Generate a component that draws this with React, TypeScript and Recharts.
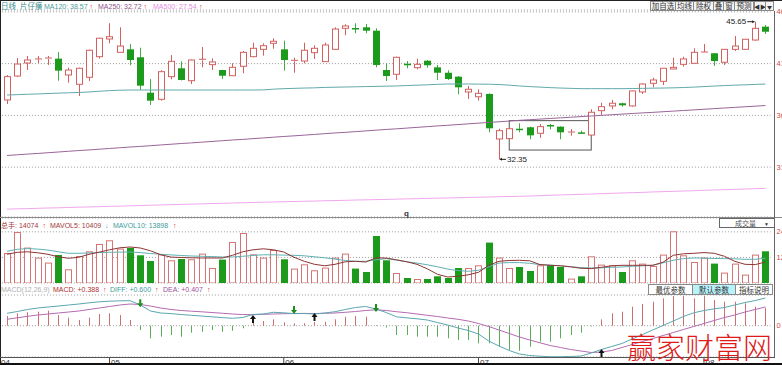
import React from "react";
import {
  ComposedChart,
  Bar,
  Line,
  XAxis,
  YAxis,
  CartesianGrid,
  ReferenceDot,
  ReferenceArea,
} from "recharts";

// daily candles, Apr - Aug
const opens = [38.09, 40.4, 41.66, 41.99, 42.05, 42.08, 40.5, 39.6, 40.28, 42.27, 43.98, 42.69, 42.98, 42.21, 38.79, 38.15, 40.34, 41.15, 39.95, 41.92, 41.5, 40.98, 40.43, 41.34, 42.27, 42.98, 43.56, 42.98, 41.82, 41.85, 42.66, 41.79, 42.98, 45.01, 45.04, 45.11, 44.78, 40.98, 40.57, 41.59, 41.21, 41.88, 41.24, 40.72, 40.34, 38.86, 38.4, 38.67, 34.32, 34.35, 35.31, 35.45, 34.87, 35.67, 35.51, 34.93, 34.96, 34.7, 37.05, 37.51, 37.77, 37.51, 38.86, 39.7, 39.89, 41.08, 41.53, 41.63, 42.66, 42.6, 41.73, 42.98, 42.98, 43.88, 45.17];
const highs = [40.5, 42.14, 42.34, 42.34, 42.34, 42.72, 41.21, 41.21, 42.95, 44.1, 45.5, 45.11, 43.5, 43.14, 40.11, 40.96, 42.43, 41.82, 42.0, 43.21, 42.11, 41.0, 41.63, 42.82, 43.62, 43.56, 44.05, 43.82, 42.17, 43.62, 43.37, 43.62, 45.11, 45.4, 45.5, 45.43, 45.01, 41.63, 42.27, 41.85, 42.08, 41.95, 41.47, 40.96, 40.4, 39.44, 39.12, 38.73, 35.31, 35.41, 35.83, 35.51, 35.77, 35.77, 35.53, 35.28, 35.12, 37.19, 37.82, 38.09, 37.82, 38.99, 39.7, 40.24, 41.18, 42.17, 42.27, 43.08, 43.5, 42.62, 43.0, 44.27, 43.98, 45.65, 45.33];
const lows = [37.7, 40.31, 40.98, 41.66, 41.47, 39.95, 39.76, 38.47, 39.92, 42.08, 43.56, 42.65, 41.44, 39.05, 37.6, 38.02, 40.09, 39.97, 39.63, 41.24, 40.98, 40.11, 40.4, 40.67, 42.21, 42.37, 43.04, 40.92, 40.72, 41.63, 42.05, 41.76, 42.95, 44.34, 44.53, 44.53, 41.24, 39.92, 40.02, 41.15, 41.05, 41.21, 40.02, 40.02, 38.64, 38.18, 38.02, 34.96, 32.35, 34.32, 34.96, 34.29, 34.44, 35.25, 34.29, 34.64, 34.8, 34.68, 36.64, 37.19, 37.44, 37.44, 38.67, 39.31, 39.53, 41.08, 41.3, 41.63, 42.66, 41.37, 41.47, 42.82, 42.92, 43.81, 44.46];
const closes = [40.34, 41.56, 41.95, 42.05, 42.14, 40.92, 40.98, 41.15, 42.89, 44.05, 44.2, 43.3, 41.95, 39.47, 38.02, 40.82, 41.82, 40.02, 41.95, 42.02, 41.76, 40.43, 41.24, 42.69, 43.08, 43.33, 43.76, 41.95, 41.92, 42.89, 43.08, 43.4, 44.94, 45.24, 44.97, 44.78, 41.47, 40.4, 42.21, 41.44, 41.53, 41.44, 40.72, 40.11, 39.31, 39.12, 38.73, 35.35, 35.12, 35.31, 35.19, 34.67, 35.51, 35.6, 34.96, 34.99, 34.83, 36.9, 37.44, 37.77, 37.57, 38.96, 39.63, 40.02, 41.15, 41.24, 42.05, 42.69, 42.72, 41.85, 42.98, 43.3, 43.95, 45.01, 44.68];

const ma120 = [38.57, 38.6, 38.64, 38.67, 38.71, 38.75, 38.78, 38.81, 38.86, 38.93, 38.99, 39.03, 39.05, 39.05, 39.05, 39.05, 39.05, 39.05, 39.05, 39.05, 39.05, 39.05, 39.05, 39.05, 39.05, 39.06, 39.13, 39.18, 39.21, 39.24, 39.26, 39.3, 39.32, 39.34, 39.36, 39.38, 39.4, 39.42, 39.44, 39.48, 39.52, 39.55, 39.6, 39.63, 39.63, 39.63, 39.62, 39.61, 39.58, 39.52, 39.44, 39.38, 39.33, 39.28, 39.24, 39.21, 39.18, 39.18, 39.18, 39.18, 39.18, 39.19, 39.21, 39.23, 39.24, 39.26, 39.29, 39.33, 39.38, 39.43, 39.48, 39.52, 39.55, 39.59, 39.63];
const ma250 = [32.72, 32.79, 32.86, 32.92, 32.99, 33.06, 33.13, 33.2, 33.26, 33.33, 33.4, 33.47, 33.54, 33.6, 33.67, 33.74, 33.81, 33.88, 33.94, 34.01, 34.08, 34.15, 34.22, 34.28, 34.35, 34.42, 34.49, 34.56, 34.62, 34.69, 34.76, 34.83, 34.9, 34.96, 35.03, 35.1, 35.17, 35.24, 35.3, 35.37, 35.44, 35.51, 35.58, 35.64, 35.71, 35.78, 35.85, 35.92, 35.98, 36.05, 36.12, 36.18, 36.24, 36.3, 36.36, 36.42, 36.48, 36.54, 36.6, 36.66, 36.72, 36.78, 36.84, 36.89, 36.95, 37.01, 37.07, 37.13, 37.19, 37.25, 37.31, 37.37, 37.43, 37.49, 37.55];
const ma500 = [27.54, 27.57, 27.59, 27.62, 27.65, 27.67, 27.7, 27.73, 27.75, 27.78, 27.81, 27.83, 27.86, 27.89, 27.92, 27.94, 27.97, 28.0, 28.02, 28.05, 28.08, 28.1, 28.13, 28.16, 28.18, 28.21, 28.23, 28.26, 28.28, 28.3, 28.32, 28.35, 28.37, 28.39, 28.42, 28.44, 28.46, 28.48, 28.51, 28.53, 28.55, 28.58, 28.6, 28.62, 28.64, 28.67, 28.69, 28.71, 28.74, 28.76, 28.78, 28.81, 28.84, 28.88, 28.91, 28.94, 28.97, 29.0, 29.04, 29.07, 29.1, 29.13, 29.16, 29.2, 29.23, 29.26, 29.29, 29.32, 29.36, 29.39, 29.42, 29.45, 29.48, 29.52, 29.55];

const volumes = [14074, 23920, 16610, 11920, 9570, 13140, 6430, 12670, 14870, 18300, 20030, 16140, 16420, 12990, 10320, 13460, 10650, 11260, 11120, 13790, 7040, 10980, 19230, 23460, 13460, 11920, 15480, 11120, 6760, 8770, 5960, 7220, 11920, 13790, 6760, 5160, 22050, 10650, 4690, 2350, 1880, 1880, 3140, 2350, 7040, 7040, 8300, 18950, 11920, 7040, 7510, 5630, 8300, 8300, 7510, 2060, 3140, 12530, 8630, 8300, 5160, 10650, 9100, 7980, 13320, 24250, 12990, 9850, 11920, 9100, 4880, 9100, 3940, 13320, 14870];
const mavol5 = [13460, 14400, 14640, 14170, 13460, 12290, 11590, 12060, 13460, 14500, 15570, 16510, 16890, 16420, 15110, 13230, 12150, 11960, 11820, 11730, 11730, 11730, 12990, 14640, 15570, 16040, 15570, 14540, 12060, 10180, 8770, 8070, 8770, 9950, 10180, 9850, 11820, 11680, 10880, 9950, 8770, 6660, 4080, 2820, 3140, 3850, 5020, 8300, 10180, 10560, 10650, 10410, 8630, 8300, 8070, 7600, 6900, 6760, 7370, 8070, 8300, 8300, 8300, 8300, 9710, 12990, 13700, 13930, 14260, 13930, 12530, 10180, 8770, 8630, 9850];
const mavol10 = [14870, 15810, 16140, 15900, 15430, 14640, 13930, 13930, 14070, 14260, 14400, 14500, 14540, 14260, 13840, 13460, 13180, 12900, 12670, 12530, 12380, 12200, 12200, 12530, 12900, 13230, 13230, 13090, 12990, 12760, 12290, 11820, 11210, 10560, 10180, 10180, 10880, 11450, 10740, 9950, 9340, 8540, 7600, 6520, 5820, 5490, 5960, 7600, 9340, 9570, 9570, 9240, 8630, 8400, 8070, 7600, 7220, 7040, 7130, 7370, 7510, 7830, 8070, 8300, 9480, 10650, 11450, 11730, 11680, 11490, 11450, 11350, 11120, 11120, 11590];

const diff = [0.269, 0.308, 0.352, 0.384, 0.406, 0.427, 0.449, 0.471, 0.497, 0.519, 0.532, 0.54, 0.543, 0.449, 0.319, 0.276, 0.263, 0.243, 0.226, 0.21, 0.193, 0.176, 0.161, 0.178, 0.245, 0.254, 0.291, 0.28, 0.262, 0.265, 0.254, 0.276, 0.304, 0.352, 0.395, 0.417, 0.362, 0.286, 0.193, 0.171, 0.15, 0.124, 0.069, 0.015, -0.05, -0.104, -0.18, -0.332, -0.441, -0.538, -0.614, -0.647, -0.662, -0.673, -0.673, -0.668, -0.658, -0.592, -0.516, -0.451, -0.386, -0.289, -0.191, -0.093, 0.004, 0.102, 0.2, 0.28, 0.33, 0.367, 0.395, 0.449, 0.503, 0.547, 0.6];
const dea = [0.139, 0.171, 0.204, 0.232, 0.254, 0.276, 0.297, 0.319, 0.352, 0.384, 0.417, 0.449, 0.471, 0.46, 0.427, 0.384, 0.352, 0.33, 0.315, 0.302, 0.286, 0.271, 0.254, 0.243, 0.239, 0.247, 0.254, 0.26, 0.265, 0.267, 0.265, 0.269, 0.276, 0.291, 0.308, 0.33, 0.345, 0.33, 0.304, 0.282, 0.254, 0.226, 0.2, 0.167, 0.139, 0.102, 0.048, -0.017, -0.093, -0.169, -0.245, -0.31, -0.371, -0.43, -0.473, -0.516, -0.549, -0.582, -0.571, -0.538, -0.473, -0.408, -0.343, -0.278, -0.213, -0.148, -0.082, -0.017, 0.048, 0.113, 0.178, 0.232, 0.297, 0.352, 0.407];
const macd = [0.21, 0.269, 0.291, 0.304, 0.326, 0.232, 0.174, 0.124, 0.174, 0.254, 0.269, 0.232, 0.124, -0.093, -0.273, -0.239, -0.202, -0.239, -0.152, -0.13, -0.093, -0.13, -0.109, -0.056, 0.074, 0.102, 0.139, 0.074, 0.052, 0.052, 0.08, 0.087, 0.139, 0.195, 0.21, 0.195, 0.015, -0.04, -0.202, -0.202, -0.239, -0.239, -0.239, -0.273, -0.31, -0.31, -0.382, -0.382, -0.456, -0.527, -0.543, -0.456, -0.347, -0.347, -0.273, -0.202, -0.152, -0.017, 0.139, 0.269, 0.304, 0.412, 0.471, 0.521, 0.595, 0.644, 0.644, 0.595, 0.644, 0.558, 0.521, 0.521, 0.486, 0.412, 0.388];

// crossing arrows on the MACD panel
const crossUp = [
  { i: 24, v: 0.232 },
  { i: 30, v: 0.276 },
  { i: 58, v: -0.506 },
];
const crossDown = [
  { i: 13, v: 0.4 },
  { i: 28, v: 0.254 },
  { i: 36, v: 0.297 },
];

const highMark = { i: 73, v: 45.65 };
const lowMark = { i: 48, v: 32.35 };
const boxMark = { i1: 49, i2: 57, lo: 33.25, hi: 36.09 };

const monthTicks = [0, 10, 27, 46, 68];
const monthLabels = ["04", "05", "06", "07", "08"];
const priceTicks = [31.6, 36.6, 41.6, 46.6];
const volTicks = [12000, 24000];
const macdTicks = [0, 0.666];

const rows = opens.map((open, i) => ({
  i,
  open,
  high: highs[i],
  low: lows[i],
  close: closes[i],
  ma120: ma120[i],
  ma250: ma250[i],
  ma500: ma500[i],
  vol: volumes[i],
  mavol5: mavol5[i],
  mavol10: mavol10[i],
  diff: diff[i],
  dea: dea[i],
  macd: macd[i],
}));

const W = 782;
const BAND = 10.25;
const LEFT = 1.9;
const AXIS_W = 11.4;
const RED = "#d2605f";
const GREEN = "#1c9a1c";
const GREEN_WICK = "#3fae3f";
const FONT = "'Liberation Sans', 'Noto Sans CJK SC', sans-serif";
const CJK = "'Noto Sans CJK SC', sans-serif";

const Candle = (props: any) => {
  const { x, y, width, height, payload } = props;
  if (x == null || payload == null) return null;
  const top = Math.min(y, y + height);
  const h = Math.abs(height);
  const { open, close, high, low } = payload;
  const k = h / (high - low || 1);
  const yO = top + (high - open) * k;
  const yC = top + (high - close) * k;
  const bTop = Math.min(yO, yC);
  const bBot = Math.max(yO, yC);
  const cx = Math.floor(x + width / 2) + 0.5;
  if (close >= open) {
    return (
      <g>
        <line x1={cx} x2={cx} y1={top} y2={bTop} stroke={RED} />
        <line x1={cx} x2={cx} y1={bBot} y2={top + h} stroke={RED} />
        {bBot - bTop < 1.5 ? (
          <line x1={cx - 3.5} x2={cx + 3.5} y1={bTop} y2={bTop} stroke={RED} />
        ) : (
          <rect x={cx - 3} y={bTop} width={6} height={bBot - bTop} fill="#fff" stroke={RED} />
        )}
      </g>
    );
  }
  return (
    <g>
      <line x1={cx} x2={cx} y1={top} y2={top + h} stroke={GREEN_WICK} />
      <rect x={cx - 3.5} y={bTop} width={7} height={Math.max(bBot - bTop, 1.5)} fill={GREEN} />
    </g>
  );
};

const VolBar = (props: any) => {
  const { x, y, width, height, payload } = props;
  if (x == null || payload == null) return null;
  const top = Math.min(y, y + height);
  const h = Math.abs(height);
  const cx = Math.floor(x + width / 2) + 0.5;
  if (payload.close >= payload.open) {
    return <rect x={cx - 3} y={top + 0.5} width={6} height={Math.max(h - 0.5, 0)} fill="#fff" stroke="#d57474" />;
  }
  return <rect x={cx - 3.5} y={top} width={7} height={h} fill={GREEN} />;
};

const MacdBar = (props: any) => {
  const { x, y, width, height, payload } = props;
  if (x == null || payload == null) return null;
  const cx = Math.floor(x + width / 2) + 0.5;
  return (
    <line
      x1={cx}
      x2={cx}
      y1={y}
      y2={y + height}
      stroke={payload.macd >= 0 ? "#cf6f6f" : "#5aae5a"}
    />
  );
};

const RightTick = (props: any) => {
  const { y, payload, label } = props;
  const text = label ? label(payload.value) : String(payload.value);
  return (
    <text x={776.5} y={y + 2.5} fontSize={7.5} fill="#d04848" fontFamily={FONT}>
      {text}
    </text>
  );
};

const MonthTick = (props: any) => {
  const { x, y, payload } = props;
  const k = monthTicks.indexOf(payload.value);
  const label = monthLabels[k] ?? "";
  if (k === 0) {
    return (
      <text x={x - 6} y={y + 7.5} fontSize={8} fill="#333" fontFamily={FONT}>
        {label}
      </text>
    );
  }
  return (
    <g>
      <line x1={x} x2={x} y1={y} y2={y + 6} stroke="#444" />
      <text x={x + 1.5} y={y + 7.5} fontSize={8} fill="#333" fontFamily={FONT}>
        {label}
      </text>
    </g>
  );
};

const ArrowUp = (props: any) => {
  const { cx, cy } = props;
  return (
    <g fill="#111">
      <polygon points={`${cx},${cy} ${cx - 3},${cy + 4} ${cx + 3},${cy + 4}`} />
      <rect x={cx - 1} y={cy + 3.5} width={2} height={4.5} />
    </g>
  );
};

const ArrowDown = (props: any) => {
  const { cx, cy } = props;
  return (
    <g fill="#1c8c1c">
      <polygon points={`${cx},${cy} ${cx - 3},${cy - 4} ${cx + 3},${cy - 4}`} />
      <rect x={cx - 1} y={cy - 8} width={2} height={4.5} />
    </g>
  );
};

const HighLabel = (props: any) => {
  const { cx, cy } = props;
  return (
    <g>
      <line x1={cx - 8} x2={cx - 1} y1={cy} y2={cy} stroke="#222" />
      <polygon points={`${cx - 0.5},${cy} ${cx - 3},${cy - 1.5} ${cx - 3},${cy + 1.5}`} fill="#222" />
      <text x={cx - 9} y={cy + 2.5} fontSize={8} textAnchor="end" fill="#222" fontFamily={FONT}>
        {highMark.v.toFixed(2)}
      </text>
    </g>
  );
};

const LowLabel = (props: any) => {
  const { cx, cy } = props;
  return (
    <g>
      <line x1={cx + 1} x2={cx + 7} y1={cy} y2={cy} stroke="#222" />
      <polygon points={`${cx + 0.5},${cy} ${cx + 3},${cy - 1.5} ${cx + 3},${cy + 1.5}`} fill="#222" />
      <text x={cx + 8} y={cy + 3} fontSize={8} fill="#222" fontFamily={FONT}>
        {lowMark.v.toFixed(2)}
      </text>
    </g>
  );
};

const BoxShape = (props: any) => {
  const { x, y, width, height } = props;
  return (
    <rect
      x={x + BAND / 2}
      y={y}
      width={width - BAND}
      height={height}
      fill="none"
      stroke="#555"
    />
  );
};

const Btn = ({ x1, x2, y1, y2, text, fill = "#f4f4f4", size = 7.5 }: any) => (
  <g>
    <rect x={x1 + 0.5} y={y1 + 0.5} width={x2 - x1} height={y2 - y1} fill={fill} stroke="#8a8a8a" />
    <text
      x={(x1 + x2) / 2 + 0.5}
      y={y2 - 1.5}
      textAnchor="middle"
      fontSize={size}
      fill="#333"
      fontFamily={CJK}
    >
      {text}
    </text>
  </g>
);

const T = ({ x, y, c, children, size = 7 }: any) => (
  <text x={x} y={y} fill={c} fontSize={size} fontFamily={FONT}>
    {children}
  </text>
);

const grid = <CartesianGrid horizontal vertical={false} stroke="#9a9a9a" strokeDasharray="1 2" />;

export default function App() {
  return (
    <div
      style={{
        position: "fixed",
        left: 0,
        top: 0,
        width: W,
        height: 365,
        overflow: "hidden",
        background: "#fff",
      }}
    >
      <div style={{ position: "absolute", left: 0, top: 0 }}>
        <ComposedChart width={W} height={218} data={rows} margin={{ top: 10, right: 0, bottom: 1, left: LEFT }}>
          {grid}
          <XAxis dataKey="i" hide />
          <YAxis
            orientation="right"
            width={AXIS_W}
            domain={[26.78, 46.78]}
            ticks={priceTicks}
            axisLine={false}
            tickLine={false}
            allowDataOverflow
            tick={(p: any) => <RightTick {...p} label={(v: number) => v.toFixed(2)} />}
          />
          <Line dataKey="ma500" stroke="#f0a6ee" dot={false} activeDot={false} isAnimationActive={false} strokeWidth={1} />
          <Line dataKey="ma250" stroke="#9a6498" dot={false} activeDot={false} isAnimationActive={false} strokeWidth={1} />
          <Line dataKey="ma120" stroke="#62a8aa" dot={false} activeDot={false} isAnimationActive={false} strokeWidth={1} />
          <Bar
            dataKey={(d: any) => [d.low, d.high]}
            barSize={7}
            shape={<Candle />}
            isAnimationActive={false}
          />
          <ReferenceArea
            x1={boxMark.i1}
            x2={boxMark.i2}
            y1={boxMark.lo}
            y2={boxMark.hi}
            shape={<BoxShape />}
          />
          <ReferenceDot x={highMark.i} y={highMark.v} shape={<HighLabel />} />
          <ReferenceDot x={lowMark.i} y={lowMark.v} shape={<LowLabel />} />
        </ComposedChart>
      </div>

      <div style={{ position: "absolute", left: 0, top: 218 }}>
        <ComposedChart width={W} height={65} data={rows} margin={{ top: 0, right: 0, bottom: 0, left: LEFT }}>
          {grid}
          <XAxis dataKey="i" hide />
          <YAxis
            orientation="right"
            width={AXIS_W}
            domain={[0, 30490]}
            ticks={volTicks}
            axisLine={false}
            tickLine={false}
            allowDataOverflow
            tick={(p: any) => <RightTick {...p} />}
          />
          <Bar dataKey="vol" barSize={7} shape={<VolBar />} isAnimationActive={false} />
          <Line dataKey="mavol10" stroke="#5fb0b2" dot={false} activeDot={false} isAnimationActive={false} strokeWidth={1} />
          <Line dataKey="mavol5" stroke="#8e3434" dot={false} activeDot={false} isAnimationActive={false} strokeWidth={1} />
        </ComposedChart>
      </div>

      <div style={{ position: "absolute", left: 0, top: 283 }}>
        <ComposedChart width={W} height={80} data={rows} margin={{ top: 0, right: 0, bottom: 0, left: LEFT }}>
          {grid}
          <XAxis
            dataKey="i"
            ticks={monthTicks}
            interval={0}
            height={6}
            tickSize={0}
            tickMargin={0}
            axisLine={false}
            tickLine={false}
            tick={(p: any) => <MonthTick {...p} />}
          />
          <YAxis
            orientation="right"
            width={AXIS_W}
            domain={[-0.679, 0.927]}
            ticks={macdTicks}
            axisLine={false}
            tickLine={false}
            allowDataOverflow
            tick={(p: any) => <RightTick {...p} label={(v: number) => (v === 0 ? "0" : "")} />}
          />
          <Bar dataKey="macd" barSize={7} shape={<MacdBar />} isAnimationActive={false} />
          <Line dataKey="dea" stroke="#b56ab3" dot={false} activeDot={false} isAnimationActive={false} strokeWidth={1} />
          <Line dataKey="diff" stroke="#5aa6b0" dot={false} activeDot={false} isAnimationActive={false} strokeWidth={1} />
          {crossUp.map((c) => (
            <ReferenceDot key={"u" + c.i} x={c.i} y={c.v} shape={<ArrowUp />} />
          ))}
          {crossDown.map((c) => (
            <ReferenceDot key={"d" + c.i} x={c.i} y={c.v} shape={<ArrowDown />} />
          ))}
        </ComposedChart>
      </div>

      <svg
        width={W}
        height={365}
        style={{ position: "absolute", left: 0, top: 0, pointerEvents: "none" }}
      >
        <rect x={0} y={0} width={W} height={1} fill="#222" />
        <rect x={0} y={0} width={1} height={365} fill="#222" />
        <line x1={0} x2={W} y1={217.5} y2={217.5} stroke="#8a8a8a" />
        <line x1={774.5} x2={774.5} y1={11} y2={357} stroke="#666" />
        <line x1={0} x2={775} y1={357.5} y2={357.5} stroke="#555" />
        <rect x={0} y={363} width={W} height={2} fill="#111" />

        {/* price header */}
        <T x={1} y={8.5} c="#3b8e8e" size={7.5}>日线</T>
        <T x={20} y={8.5} c="#3b8e8e" size={7.5}>片仔癀</T>
        <T x={44} y={8.5} c="#4a9c9c">MA120: 38.57</T>
        <T x={89.5} y={8.5} c="#e02020">↑</T>
        <T x={98} y={8.5} c="#8c4f8c">MA250: 32.72</T>
        <T x={143.5} y={8.5} c="#e02020">↑</T>
        <T x={153} y={8.5} c="#e58ae5">MA500: 27.54</T>
        <T x={199} y={8.5} c="#e02020">↑</T>

        <Btn x1={650} x2={675} y1={1} y2={10} text="加自选" />
        <Btn x1={675} x2={693} y1={1} y2={10} text="均线" />
        <Btn x1={693} x2={713} y1={1} y2={10} text="除权" />
        <Btn x1={713} x2={723} y1={1} y2={10} text="叠" />
        <Btn x1={723} x2={734} y1={1} y2={10} text="窗" />
        <Btn x1={734} x2={753} y1={1} y2={10} text="预测" />
        <Btn x1={754} x2={765} y1={1} y2={10} text="◀▶" size={6} />
        <Btn x1={765} x2={773} y1={1} y2={10} text="▼" size={5} />

        <text x={404} y={215.5} fontSize={8} fontWeight="bold" fill="#334" fontFamily={FONT}>
          q
        </text>

        {/* volume header */}
        <T x={1} y={228} c="#a33a3a">总手: 14074</T>
        <T x={42.5} y={228} c="#e02020">↑</T>
        <T x={50} y={228} c="#a33a3a">MAVOL5: 10409</T>
        <T x={105} y={228} c="#3aa6c8">↓</T>
        <T x={113} y={228} c="#3c9c9c">MAVOL10: 13898</T>
        <T x={173} y={228} c="#e02020">↑</T>

        <rect x={719.5} y={218.5} width={55} height={9} fill="#fff" stroke="#666" />
        <text x={735} y={226} fontSize={7} fill="#555" fontFamily={CJK}>
          成交量
        </text>
        <text x={764} y={225.5} fontSize={5} fill="#333" fontFamily={FONT}>
          ▼
        </text>

        {/* macd header */}
        <T x={1} y={292} c="#b0b0b0">MACD(12,26,9)</T>
        <T x={53} y={292} c="#b03030">MACD: +0.388</T>
        <T x={103} y={292} c="#e02020">↑</T>
        <T x={110} y={292} c="#3c9c9c">DIFF: +0.600</T>
        <T x={155} y={292} c="#e02020">↑</T>
        <T x={163} y={292} c="#9c4f9c">DEA: +0.407</T>
        <T x={207} y={292} c="#e02020">↑</T>

        <Btn x1={648} x2={692} y1={284} y2={294} text="最优参数" fill="#fff" />
        <Btn x1={692} x2={735} y1={284} y2={294} text="默认参数" fill="#b8f2fa" />
        <Btn x1={735} x2={772} y1={284} y2={294} text="指标说明" fill="#fff" />

        <text x={627} y={359} fontSize={29} fill="#e01a1a" fontFamily={CJK} fontWeight={300}>
          赢家财富网
        </text>
      </svg>
    </div>
  );
}
